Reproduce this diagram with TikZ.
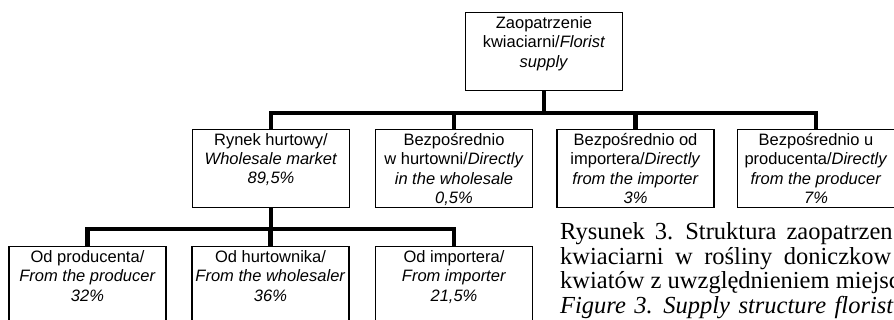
\documentclass[tikz,border=0pt]{standalone}
\usepackage{fontspec}
\setmainfont{Liberation Serif}
\setsansfont{Liberation Sans}
\usepackage{tikz}
\usetikzlibrary{positioning, calc}

\newcommand{\boxtext}[1]{\parbox[c][70pt][t]{151pt}{\centering #1}}

\begin{document}
\begin{tikzpicture}[
    x=1pt, y=-1pt,
    supply/.style={draw=black, line width=1.2pt, fill=white,
                   inner xsep=3pt, inner ysep=4pt,
                   font=\sffamily\fontsize{16.5}{19.3}\selectfont},
    link/.style={draw=black, line width=4.3pt},
    caption/.style={anchor=base west, inner sep=0pt,
                    font=\fontsize{24.5}{24}\selectfont}
]
    \useasboundingbox (0,0) rectangle (894,320);
    \clip (0,0) rectangle (894,320);

    \node[supply] (florist) at (544,51.7) {\boxtext{
        Zaopatrzenie\\ kwiaciarni/\textit{Florist}\\ \textit{supply}}};

    \node[supply] (market) at (271,168.3) {\boxtext{
        Rynek hurtowy/\\ \textit{Wholesale market}\\ \textit{89,5\%}}};

    \node[supply] (wholesale) at (454,168.3) {\boxtext{
        Bezpośrednio\\ w hurtowni/\textit{Directly}\\ \textit{in the wholesale}\\ \textit{0,5\%}}};

    \node[supply] (importer) at (635.5,168.3) {\boxtext{
        Bezpośrednio od\\ importera/\textit{Directly}\\ \textit{from the importer}\\ \textit{3\%}}};

    \node[supply] (producer) at (816,168.3) {\boxtext{
        Bezpośrednio u\\ producenta/\textit{Directly}\\ \textit{from the producer}\\ \textit{7\%}}};

    \node[supply] (fromprod) at (87.5,285.7) {\boxtext{
        Od producenta/\\ \textit{From the producer}\\ \textit{32\%}}};

    \node[supply] (fromwhole) at (270.5,285.7) {\boxtext{
        Od hurtownika/\\ \textit{From the wholesaler}\\ \textit{36\%}}};

    \node[supply] (fromimp) at (454,285.7) {\boxtext{
        Od importera/\\ \textit{From importer}\\ \textit{21,5\%}}};

    % Tree connectors
    \coordinate (split1) at (544,113);
    \coordinate (split2) at (271,229.3);
    \draw[link] (florist.south) -- (split1);
    \foreach \child in {market, wholesale, importer, producer}
        \draw[link] (split1) -| (\child.north);
    \draw[link] (market.south) -- (split2);
    \foreach \child in {fromprod, fromwhole, fromimp}
        \draw[link] (split2) -| (\child.north);

    % Caption
    \node[caption] (cap1) at (560,240) {\spaceskip=10pt Rysunek 3. Struktura zaopatrzen};
    \node[caption] (cap2) at (560,264.5) {\spaceskip=11.5pt kwiaciarni w rośliny doniczkow};
    \node[caption] (cap3) at (560,289) {kwiatów z uwzględnieniem miejsc};
    \node[caption] (cap4) at (560,313) {\textit{\spaceskip=8.5pt Figure 3. Supply structure florist}};
\end{tikzpicture}
\end{document}
